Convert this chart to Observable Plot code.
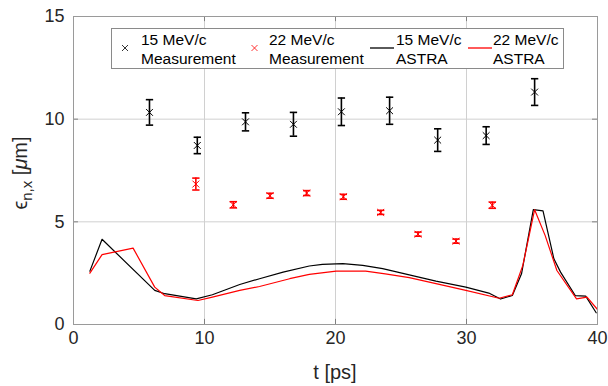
<!DOCTYPE html>
<html>
<head>
<meta charset="utf-8">
<script src="https://cdn.jsdelivr.net/npm/d3@7"></script>
<script src="https://cdn.jsdelivr.net/npm/@observablehq/plot@0.6"></script>
<style>
  html, body { margin: 0; padding: 0; background: white; }
</style>
</head>
<body>
<div id="chart"></div>
<script>
// Tick values
const xTicks = [0, 10, 20, 30, 40];
const yTicks = [0, 5, 10, 15];

// 15 MeV/c measurement
const meas15T   = [5.8, 9.45, 13.13, 16.79, 20.45, 24.13, 27.8, 31.5, 35.2];
const meas15Val = [10.33, 8.72, 9.87, 9.75, 10.36, 10.41, 8.98, 9.2, 11.32];
const meas15Err = [0.62, 0.40, 0.44, 0.58, 0.67, 0.66, 0.55, 0.43, 0.65];

// 22 MeV/c measurement
const meas22T   = [9.34, 12.2, 15.0, 17.8, 20.6, 23.45, 26.3, 29.2, 31.97];
const meas22Val = [6.84, 5.83, 6.27, 6.40, 6.22, 5.46, 4.40, 4.06, 5.81];
const meas22Err = [0.29, 0.15, 0.12, 0.12, 0.12, 0.10, 0.10, 0.10, 0.15];

// 15 MeV/c ASTRA
const astra15T   = [1.25, 2.18, 6.2, 6.96, 9.37, 10.6, 12.69, 14.2, 16.0, 18.0, 19.0, 20.56, 22.08, 23.6, 25.63, 27.67, 29.95, 31.7, 32.6, 33.5, 34.2, 35.1, 35.84, 36.67, 37.18, 38.3, 39.1, 39.9];
const astra15Val = [2.6, 4.15, 1.66, 1.5, 1.25, 1.45, 1.95, 2.23, 2.55, 2.85, 2.93, 2.96, 2.88, 2.72, 2.42, 2.11, 1.82, 1.53, 1.24, 1.41, 2.47, 5.59, 5.53, 3.2, 2.55, 1.41, 1.38, 0.57];

// 22 MeV/c ASTRA
const astra22T   = [1.25, 2.18, 4.55, 6.2, 6.96, 9.5, 10.6, 12.69, 14.2, 16.5, 18.0, 20.05, 22.3, 23.8, 25.63, 27.67, 29.95, 32.49, 33.5, 34.3, 35.2, 36.0, 36.9, 38.4, 39.2, 40.0];
const astra22Val = [2.5, 3.4, 3.72, 1.82, 1.41, 1.17, 1.33, 1.66, 1.85, 2.23, 2.44, 2.6, 2.6, 2.47, 2.28, 1.99, 1.66, 1.28, 1.45, 2.88, 5.59, 4.34, 2.63, 1.25, 1.33, 0.73];

// Legend entries
const legendLabels = [["15 MeV/c", "Measurement"], ["22 MeV/c", "Measurement"], ["15 MeV/c", "ASTRA"], ["22 MeV/c", "ASTRA"]];

const meas15 = meas15T.map((t, i) => ({t, v: meas15Val[i], e: meas15Err[i]}));
const meas22 = meas22T.map((t, i) => ({t, v: meas22Val[i], e: meas22Err[i]}));
const astra15 = astra15T.map((t, i) => ({t, v: astra15Val[i]}));
const astra22 = astra22T.map((t, i) => ({t, v: astra22Val[i]}));

const RED = "#ff0000";
const FONT = "'Liberation Sans', Arial, Helvetica, sans-serif";
const capHalf = 0.28;

function errMarks(data, color, w) {
  return [
    Plot.ruleX(data, {x: "t", y1: d => d.v - d.e, y2: d => d.v + d.e, stroke: color, strokeWidth: w}),
    Plot.link(data, {x1: d => d.t - capHalf, x2: d => d.t + capHalf, y1: d => d.v + d.e, y2: d => d.v + d.e, stroke: color, strokeWidth: w}),
    Plot.link(data, {x1: d => d.t - capHalf, x2: d => d.t + capHalf, y1: d => d.v - d.e, y2: d => d.v - d.e, stroke: color, strokeWidth: w}),
    Plot.dot(data, {x: "t", y: "v", symbol: "times", r: 3.2, stroke: color, strokeWidth: 1})
  ];
}

const plot = Plot.plot({
  width: 608,
  height: 386,
  marginLeft: 73,
  marginRight: 11,
  marginTop: 16,
  marginBottom: 62,
  style: {fontFamily: FONT, background: "white", color: "#262626"},
  x: {domain: [0, 40]},
  y: {domain: [0, 15]},
  marks: [
    Plot.ruleX(xTicks, {x: d => d, y1: 0, y2: 15, stroke: "#d0d0d0", strokeOpacity: 1, strokeWidth: 1}),
    Plot.ruleY(yTicks, {y: d => d, x1: 0, x2: 40, stroke: "#d0d0d0", strokeOpacity: 1, strokeWidth: 1}),
    Plot.axisX(xTicks, {tickSize: 0, tickPadding: 7, fontSize: 18, label: null, color: "#262626"}),
    Plot.axisY(yTicks, {tickSize: 0, tickPadding: 9, fontSize: 18, label: null, color: "#262626"}),
    Plot.ruleX(xTicks, {y1: 0, y2: 0.25, stroke: "#808080"}),
    Plot.ruleX(xTicks, {y1: 15, y2: 14.75, stroke: "#808080"}),
    Plot.ruleY(yTicks, {x1: 0, x2: 0.38, stroke: "#808080"}),
    Plot.ruleY(yTicks, {x1: 40, x2: 39.62, stroke: "#808080"}),
    Plot.line(astra15, {x: "t", y: "v", stroke: "black", strokeWidth: 1.2}),
    Plot.line(astra22, {x: "t", y: "v", stroke: RED, strokeWidth: 1.2}),
    ...errMarks(meas15, "black", 1.6),
    ...errMarks(meas22, RED, 1.6),
    Plot.frame({stroke: "#9a9a9a"})
  ]
});

const svg = d3.select(plot);

// Axis labels
svg.append("text")
  .attr("x", 335).attr("y", 379)
  .attr("text-anchor", "middle")
  .attr("font-family", FONT).attr("font-size", 20).attr("fill", "#262626")
  .text("t [ps]");

const yl = svg.append("text")
  .attr("transform", "translate(27,173) rotate(-90)")
  .attr("text-anchor", "middle")
  .attr("font-family", FONT).attr("font-size", 20).attr("fill", "#262626");
yl.append("tspan").text("\u03F5");
yl.append("tspan").attr("font-size", 15).attr("dy", 5).text("n,x");
yl.append("tspan").attr("dy", -5).text(" [");
yl.append("tspan").attr("font-style", "italic").text("\u03BC");
yl.append("tspan").text("m]");

// Legend
const lg = svg.append("g").attr("font-family", FONT).attr("font-size", 15.5)
  .attr("fill", "#000").attr("text-anchor", "start");
lg.append("rect").attr("x", 111.5).attr("y", 28.5).attr("width", 452).attr("height", 40)
  .attr("fill", "white").attr("stroke", "#8a8a8a");
const crossPath = "M-3,-3L3,3M-3,3L3,-3";
const entries = [
  {kind: "x", color: "black", sx: 125, tx: 141},
  {kind: "x", color: RED, sx: 254.5, tx: 269},
  {kind: "l", color: "black", sx: 370, tx: 396},
  {kind: "l", color: RED, sx: 468, tx: 493}
];
entries.forEach((e, i) => {
  if (e.kind === "x") {
    lg.append("path").attr("d", crossPath).attr("transform", `translate(${e.sx},48)`)
      .attr("stroke", e.color).attr("fill", "none").attr("stroke-width", 0.8);
  } else {
    lg.append("line").attr("x1", e.sx).attr("x2", e.sx + 24).attr("y1", 48).attr("y2", 48)
      .attr("stroke", e.color).attr("stroke-width", 1.3);
  }
  lg.append("text").attr("x", e.tx).attr("y", 45).attr("text-anchor", "start").text(legendLabels[i][0]);
  lg.append("text").attr("x", e.tx).attr("y", 64).attr("text-anchor", "start").text(legendLabels[i][1]);
});

document.getElementById("chart").appendChild(plot);
</script>
</body>
</html>
